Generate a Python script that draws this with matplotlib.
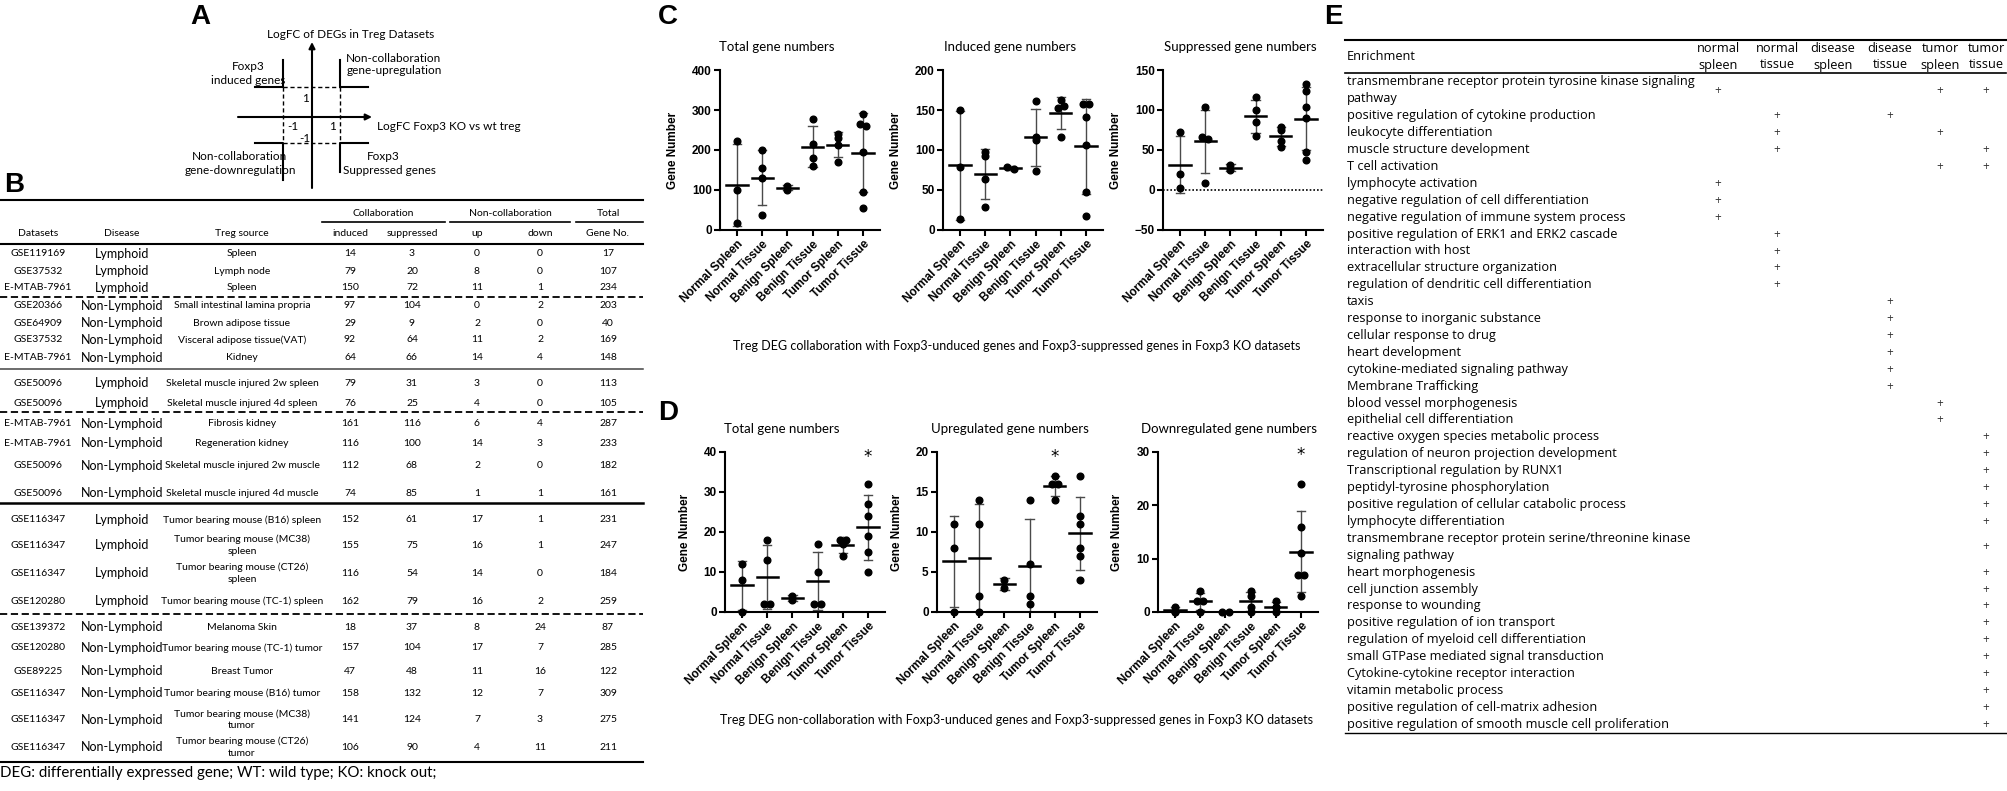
import numpy as np
import matplotlib
matplotlib.use("Agg")
import matplotlib.pyplot as plt

W, H = 2008, 791

TXT = "Lato"
ARIAL = "Liberation Sans"
YAHEI = "Open Sans"

# ---------------- data ----------------
groups = ["Normal Spleen", "Normal Tissue", "Benign Spleen",
          "Benign Tissue", "Tumor Spleen", "Tumor Tissue"]

# C: collaboration genes (values per dataset in each group)
c_total = [[17, 99, 222], [201, 38, 156, 130], [110, 101],
           [277, 216, 180, 159], [213, 230, 170, 241],
           [55, 261, 95, 290, 265, 196]]
c_induced = [[14, 79, 150], [97, 29, 92, 64], [79, 76],
             [161, 116, 112, 74], [152, 155, 116, 162],
             [18, 157, 47, 158, 141, 106]]
c_suppressed = [[3, 20, 72], [104, 9, 64, 66], [31, 25],
                [116, 100, 68, 85], [61, 75, 54, 79],
                [37, 104, 48, 132, 124, 90]]

# D: non-collaboration genes
d_total = [[0, 8, 12], [2, 2, 13, 18], [3, 4], [10, 17, 2, 2],
           [18, 17, 14, 18], [32, 24, 27, 19, 10, 15]]
d_up = [[0, 8, 11], [0, 2, 11, 14], [3, 4], [6, 14, 2, 1],
        [17, 16, 14, 16], [8, 17, 11, 12, 7, 4]]
d_down = [[0, 0, 1], [2, 0, 2, 4], [0, 0], [4, 3, 0, 1],
          [1, 1, 0, 2], [24, 7, 16, 7, 3, 11]]

# B: table
b_datasets = ["GSE119169", "GSE37532", "E-MTAB-7961", "GSE20366", "GSE64909",
              "GSE37532", "E-MTAB-7961", "GSE50096", "GSE50096", "E-MTAB-7961",
              "E-MTAB-7961", "GSE50096", "GSE50096", "GSE116347", "GSE116347",
              "GSE116347", "GSE120280", "GSE139372", "GSE120280", "GSE89225",
              "GSE116347", "GSE116347", "GSE116347"]
b_disease = ["Lymphoid"] * 3 + ["Non-Lymphoid"] * 4 + ["Lymphoid"] * 2 + \
            ["Non-Lymphoid"] * 4 + ["Lymphoid"] * 4 + ["Non-Lymphoid"] * 6
b_source = ["Spleen", "Lymph node", "Spleen", "Small intestinal lamina propria",
            "Brown adipose tissue", "Visceral adipose tissue(VAT)", "Kidney",
            "Skeletal muscle injured 2w spleen", "Skeletal muscle injured 4d spleen",
            "Fibrosis kidney", "Regeneration kidney",
            "Skeletal muscle injured 2w muscle", "Skeletal muscle injured 4d muscle",
            "Tumor bearing mouse (B16) spleen", "Tumor bearing mouse (MC38)\nspleen",
            "Tumor bearing mouse (CT26)\nspleen", "Tumor bearing mouse (TC-1) spleen",
            "Melanoma Skin", "Tumor bearing mouse (TC-1) tumor", "Breast Tumor",
            "Tumor bearing mouse (B16) tumor", "Tumor bearing mouse (MC38)\ntumor",
            "Tumor bearing mouse (CT26)\ntumor"]
b_induced = [14, 79, 150, 97, 29, 92, 64, 79, 76, 161, 116, 112, 74,
             152, 155, 116, 162, 18, 157, 47, 158, 141, 106]
b_suppressed = [3, 20, 72, 104, 9, 64, 66, 31, 25, 116, 100, 68, 85,
                61, 75, 54, 79, 37, 104, 48, 132, 124, 90]
b_up = [0, 8, 11, 0, 2, 11, 14, 3, 4, 6, 14, 2, 1, 17, 16, 14, 16, 8, 17, 11, 12, 7, 4]
b_down = [0, 0, 1, 2, 0, 2, 4, 0, 0, 4, 3, 0, 1, 1, 1, 0, 2, 24, 7, 16, 7, 3, 11]
b_total = [17, 107, 234, 203, 40, 169, 148, 113, 105, 287, 233, 182, 161,
           231, 247, 184, 259, 87, 285, 122, 309, 275, 211]

# E: enrichment table
e_columns = ["normal\nspleen", "normal\ntissue", "disease\nspleen",
             "disease\ntissue", "tumor\nspleen", "tumor\ntissue"]
e_terms = [
    "transmembrane receptor protein tyrosine kinase signaling\npathway",
    "positive regulation of cytokine production",
    "leukocyte differentiation",
    "muscle structure development",
    "T cell activation",
    "lymphocyte activation",
    "negative regulation of cell differentiation",
    "negative regulation of immune system process",
    "positive regulation of ERK1 and ERK2 cascade",
    "interaction with host",
    "extracellular structure organization",
    "regulation of dendritic cell differentiation",
    "taxis",
    "response to inorganic substance",
    "cellular response to drug",
    "heart development",
    "cytokine-mediated signaling pathway",
    "Membrane Trafficking",
    "blood vessel morphogenesis",
    "epithelial cell differentiation",
    "reactive oxygen species metabolic process",
    "regulation of neuron projection development",
    "Transcriptional regulation by RUNX1",
    "peptidyl-tyrosine phosphorylation",
    "positive regulation of cellular catabolic process",
    "lymphocyte differentiation",
    "transmembrane receptor protein serine/threonine kinase\nsignaling pathway",
    "heart morphogenesis",
    "cell junction assembly",
    "response to wounding",
    "positive regulation of ion transport",
    "regulation of myeloid cell differentiation",
    "small GTPase mediated signal transduction",
    "Cytokine-cytokine receptor interaction",
    "vitamin metabolic process",
    "positive regulation of cell-matrix adhesion",
    "positive regulation of smooth muscle cell proliferation",
]
e_hits = [[0, 4, 5], [1, 3], [1, 4], [1, 5], [4, 5], [0], [0], [0],
          [1], [1], [1], [1], [3], [3], [3], [3], [3], [3], [4], [4]] + [[5]] * 17

# ---------------- figure ----------------
fig = plt.figure(figsize=(W / 100, H / 100), dpi=100)
ov = fig.add_axes([0, 0, 1, 1])
ov.set_xlim(0, W)
ov.set_ylim(H, 0)
ov.axis("off")


def letter(x, y, s):
    ov.text(x, y, s, fontsize=20, fontweight="bold", family=ARIAL,
            ha="center", va="center")


# ---- panel A ----
letter(200, 17, "A")
arrow = dict(arrowstyle="-|>", color="k", lw=1.5, mutation_scale=9,
             shrinkA=0, shrinkB=0)
ov.annotate("", xy=(312, 42), xytext=(312, 188), arrowprops=arrow)
ov.annotate("", xy=(372, 117), xytext=(238, 117), arrowprops=arrow)
for xx in (283, 340):
    ov.plot([xx, xx], [87, 143], color="k", lw=1, dashes=(3, 2))
for yy in (87, 143):
    ov.plot([283, 340], [yy, yy], color="k", lw=1, dashes=(3, 2))
ov.plot([255, 283, 283], [87, 87, 60], color="k", lw=1.5)
ov.plot([368, 340, 340], [87, 87, 60], color="k", lw=1.5)
ov.plot([255, 283, 283], [143, 143, 180], color="k", lw=1.5)
ov.plot([368, 340, 340], [143, 143, 172], color="k", lw=1.5)
fa = dict(family=TXT, fontsize=8.5)
ov.text(267, 34, "LogFC of DEGs in Treg Datasets", ha="left", va="center", **fa)
ov.text(377, 127, "LogFC Foxp3 KO vs wt treg", ha="left", va="center", **fa)
ov.text(248, 67, "Foxp3", ha="center", va="center", **fa)
ov.text(248, 80, "induced genes", ha="center", va="center", **fa)
ov.text(394, 58, "Non-collaboration", ha="center", va="center", **fa)
ov.text(394, 71, "gene-upregulation", ha="center", va="center", **fa)
ov.text(240, 157, "Non-collaboration", ha="center", va="center", **fa)
ov.text(240, 170, "gene-downregulation", ha="center", va="center", **fa)
ov.text(383, 157, "Foxp3", ha="center", va="center", **fa)
ov.text(343, 170, "Suppressed genes", ha="left", va="center", **fa)
ov.text(309, 98, "1", ha="right", va="center", **fa)
ov.text(293, 127, "-1", ha="center", va="center", **fa)
ov.text(333, 127, "1", ha="center", va="center", **fa)
ov.text(311, 138, "-1", ha="right", va="center", **fa)

# ---- panel B ----
letter(14, 185, "B")
bx = [38, 122, 242, 350, 412, 477, 540, 608]
b_row_y = [254, 271, 288, 306, 323, 340, 358, 383, 403, 424, 443, 466, 493,
           520, 545, 573, 601, 627, 648, 671, 693, 720, 747]
fb = dict(family=TXT, fontsize=7.5, ha="center", va="center")
ov.plot([0, 643], [200, 200], color="k", lw=1.5)
ov.text(383, 213, "Collaboration", **fb)
ov.text(510, 213, "Non-collaboration", **fb)
ov.text(608, 213, "Total", **fb)
ov.plot([322, 445], [222, 222], color="k", lw=1.2)
ov.plot([450, 570], [222, 222], color="k", lw=1.2)
ov.plot([576, 643], [222, 222], color="k", lw=1.2)
for xx, s in zip(bx, ["Datasets", "Disease", "Treg source", "induced",
                      "suppressed", "up", "down", "Gene No."]):
    ov.text(xx, 233, s, **fb)
ov.plot([0, 643], [244, 244], color="k", lw=1.5)
for i, yy in enumerate(b_row_y):
    ov.text(bx[0], yy, b_datasets[i], **fb)
    ov.text(bx[1], yy, b_disease[i], family=TXT, fontsize=9,
            ha="center", va="center")
    lines = b_source[i].split("\n")
    for k, ln in enumerate(lines):
        ov.text(bx[2], yy + (k - (len(lines) - 1) / 2) * 12, ln, **fb)
    for j, col in enumerate([b_induced, b_suppressed, b_up, b_down, b_total]):
        ov.text(bx[3 + j], yy, str(col[i]), **fb)
for yy, style in [(297, "dash"), (369, "thin"), (412, "dash"),
                  (503, "thick"), (614, "dash")]:
    if style == "dash":
        ov.plot([0, 643], [yy, yy], color="k", lw=1.3, dashes=(4, 2))
    elif style == "thin":
        ov.plot([0, 643], [yy, yy], color="#444444", lw=1.1)
    else:
        ov.plot([0, 643], [yy, yy], color="k", lw=1.8)
ov.plot([0, 643], [762, 762], color="k", lw=1.5)
ov.text(0, 773, "DEG: differentially expressed gene; WT: wild type; KO: knock out;",
        family=TXT, fontsize=10.8, ha="left", va="center")


# ---- panels C and D ----
def swarm(vals, unit_px, d=6.4, cat_px=25.2):
    vals = np.asarray(vals, float)
    order = np.argsort(-vals)
    pts = {}
    for i in order:
        yv = vals[i] * unit_px
        for k in [0, 1, -1, 2, -2, 3, -3]:
            xo = k * d
            if all((xo - p[0]) ** 2 + (yv - p[1]) ** 2 >= (0.95 * d) ** 2
                   for p in pts.values()):
                break
        pts[i] = (xo, yv)
    # centre touching clusters
    idx = list(pts)
    comp = {i: i for i in idx}

    def find(a):
        while comp[a] != a:
            a = comp[a]
        return a
    for a in idx:
        for b in idx:
            if a < b:
                pa, pb = pts[a], pts[b]
                if (pa[0] - pb[0]) ** 2 + (pa[1] - pb[1]) ** 2 < (1.1 * d) ** 2:
                    comp[find(a)] = find(b)
    offs = np.zeros(len(vals))
    roots = {}
    for i in idx:
        roots.setdefault(find(i), []).append(i)
    for members in roots.values():
        m = np.mean([pts[i][0] for i in members])
        for i in members:
            offs[i] = (pts[i][0] - m) / cat_px
    return offs


def dot_plot(x0, ytop, data, ymin, ymax, step, title, title_x,
             star=None, zero=False, lab_x=-0.256):
    ax = fig.add_axes([x0 / W, 1 - (ytop + 160) / H, 160 / W, 160 / H])
    ax.set_xlim(-0.67, 5.67)
    ax.set_ylim(ymin, ymax)
    ax.patch.set_alpha(0)
    unit_px = 160 / (ymax - ymin)
    for g, vals in enumerate(data):
        vals = np.asarray(vals, float)
        m = vals.mean()
        sd = vals.std(ddof=1)
        ax.plot([g, g], [m - sd, m + sd], color="#4a4a4a", lw=1.0, zorder=2)
        for yv in (m - sd, m + sd):
            ax.plot([g - 0.17, g + 0.17], [yv, yv], color="#4a4a4a", lw=1.0, zorder=2)
        ax.plot([g - 0.42, g + 0.42], [m, m], color="k", lw=1.8, zorder=3)
        offs = swarm(vals, unit_px)
        ax.plot(g + offs, vals, "o", color="k", ms=4.8, mec="k", zorder=4,
                clip_on=False)
    if zero:
        ax.axhline(0, color="k", lw=1.2, ls=(0, (1, 1.2)), zorder=1)
    if star is not None:
        ax.text(star[0], star[1], "*", fontsize=12, ha="center", va="center",
                family="DejaVu Sans", clip_on=False)
    for s in ("top", "right"):
        ax.spines[s].set_visible(False)
    for s in ("left", "bottom"):
        ax.spines[s].set_linewidth(1.5)
    ax.set_yticks(np.arange(ymin, ymax + step / 2, step))
    ax.set_xticks(range(len(groups)))
    ax.set_xticklabels(groups, rotation=45, ha="right", rotation_mode="anchor",
                       fontsize=8.5, fontweight="bold", family=ARIAL)
    for lab in ax.get_yticklabels():
        lab.set_fontsize(8.5)
        lab.set_fontweight("bold")
        lab.set_family(ARIAL)
    ax.tick_params(width=1.5, length=4, pad=2)
    ax.set_ylabel("Gene Number", fontsize=8.5, fontweight="bold", family=ARIAL)
    ax.yaxis.set_label_coords(lab_x, 0.5)
    ov.text(title_x, ytop - 23, title, family=TXT, fontsize=9.5,
            ha="center", va="center")
    return ax


letter(668, 17, "C")
dot_plot(720, 70, c_total, 0, 400, 100, "Total gene numbers", 777)
dot_plot(943, 70, c_induced, 0, 200, 50, "Induced gene numbers", 1010)
dot_plot(1163, 70, c_suppressed, -50, 150, 50, "Suppressed gene numbers", 1240,
         zero=True)
ov.text(1017, 346, "Treg DEG collaboration with Foxp3-unduced genes and "
        "Foxp3-suppressed genes in Foxp3 KO datasets",
        family=TXT, fontsize=9, ha="center", va="center")

letter(668, 413, "D")
dot_plot(725, 452, d_total, 0, 40, 10, "Total gene numbers", 782,
         star=(5, 38.7), lab_x=-0.21)
dot_plot(937, 452, d_up, 0, 20, 5, "Upregulated gene numbers", 1010,
         star=(4, 19.4), lab_x=-0.21)
dot_plot(1158, 452, d_down, 0, 30, 10, "Downregulated gene numbers", 1229,
         star=(5, 29.4), lab_x=-0.22)
ov.text(1017, 720, "Treg DEG non-collaboration with Foxp3-unduced genes and "
        "Foxp3-suppressed genes in Foxp3 KO datasets",
        family=TXT, fontsize=9, ha="center", va="center")

# ---- panel E ----
letter(1333, 17, "E")
ex0, ex1 = 1345, 2006
ecx = [1718, 1777, 1833, 1890, 1940, 1986]
fe = dict(family=YAHEI, fontsize=9.2, va="center")
ov.plot([ex0, ex1], [40, 40], color="k", lw=1.5)
ov.text(1347, 57, "Enrichment", ha="left", **fe)
for xx, s in zip(ecx, e_columns):
    a, b = s.split("\n")
    ov.text(xx, 49, a, ha="center", **fe)
    ov.text(xx, 65, b, ha="center", **fe)
ov.plot([ex0, ex1], [73, 73], color="k", lw=1.2)
line_h = 16.9
ln = 0
for term, hits in zip(e_terms, e_hits):
    parts = term.split("\n")
    ys = [82 + (ln + k) * line_h for k in range(len(parts))]
    for yy, p in zip(ys, parts):
        ov.text(1347, yy, p, ha="left", **fe)
    yc = np.mean(ys)
    for h in hits:
        ov.text(ecx[h], yc, "+", ha="center", family=YAHEI, fontsize=8.5,
                va="center", color="#333333")
    ln += len(parts)
ov.plot([ex0, ex1], [82 + (ln - 1) * line_h + 9] * 2, color="k", lw=1.0)

fig.savefig("out.png", dpi=100)
